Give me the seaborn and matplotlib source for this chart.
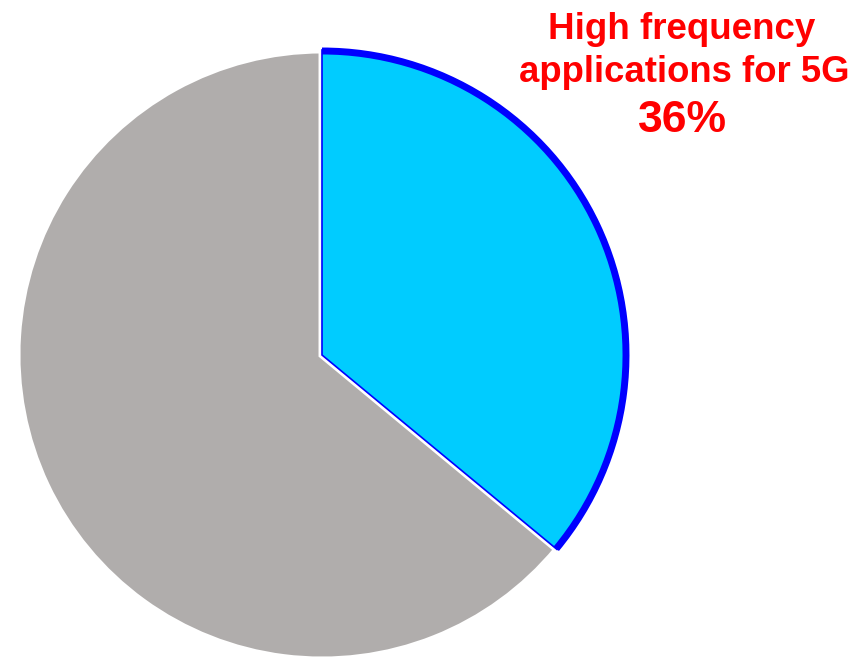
import matplotlib
matplotlib.use("Agg")
import matplotlib.pyplot as plt
from matplotlib.patches import Arc
import seaborn as sns

labels = ["High frequency applications for 5G", "Other"]
shares = [36, 64]
colors = ["#00CCFF", "#B0ADAC"]

sns.set_theme(style="white")
plt.rcParams['font.family'] = ['Liberation Sans', 'DejaVu Sans']

fig = plt.figure(figsize=(8.56, 6.58), dpi=100)
ax = fig.add_axes([0, 0, 1, 1])

cx, cy, r = 322, 303, 305
wedges, _ = ax.pie(shares, colors=colors, startangle=90, counterclock=False,
                   center=(cx, cy), radius=r, frame=True,
                   wedgeprops=dict(edgecolor='white', linewidth=5))
ax.set_xlim(0, 856)
ax.set_ylim(0, 658)
ax.set_aspect('equal')
ax.axis('off')

# highlighted slice: thin blue rim on the radii, thick blue outer arc
hi = wedges[0]
hi.set_edgecolor('blue')
hi.set_linewidth(1.2)
hi.set_zorder(3)
wedges[1].set_zorder(2)
ax.add_patch(Arc((cx, cy), 2 * r - 2, 2 * r - 2, theta1=hi.theta1, theta2=hi.theta2,
                 color='blue', linewidth=5, zorder=4))

ax.text(682, 619, "High frequency", color='red', fontsize=26.5, fontweight='bold',
        ha='center', va='baseline')
ax.text(684, 576, "applications for 5G", color='red', fontsize=26.3, fontweight='bold',
        ha='center', va='baseline')
ax.text(682, 526, f"{shares[0]}%", color='red', fontsize=32, fontweight='bold',
        ha='center', va='baseline')

fig.savefig("out.png", dpi=100)
